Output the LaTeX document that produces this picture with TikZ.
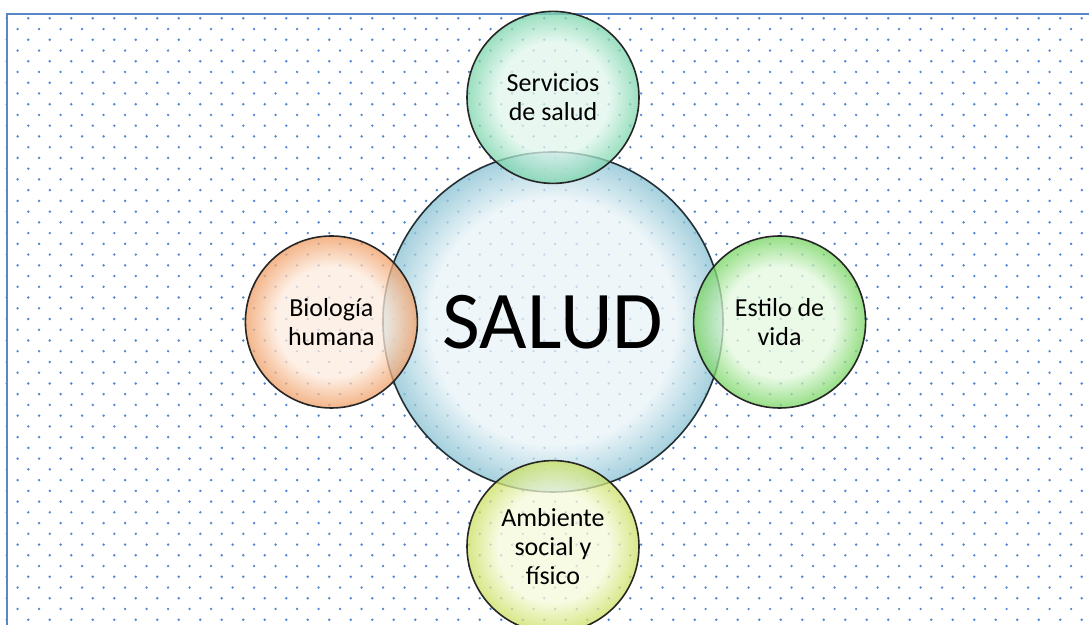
\documentclass[tikz,border=0pt]{standalone}
\usepackage{fontspec}
\setmainfont{Carlito}
\usetikzlibrary{positioning}

\definecolor{dotblue}{HTML}{4F86D2}
\definecolor{framecol}{HTML}{5A86C6}
\definecolor{saludin}{HTML}{E8F3F7}
\definecolor{saludout}{HTML}{86C0D2}
\definecolor{servin}{HTML}{E0F6EC}
\definecolor{servout}{HTML}{78D4AA}
\definecolor{bioin}{HTML}{FDEBDD}
\definecolor{bioout}{HTML}{F09C62}
\definecolor{estin}{HTML}{E4F8DF}
\definecolor{estout}{HTML}{74D45E}
\definecolor{ambin}{HTML}{F5FADB}
\definecolor{ambout}{HTML}{CADF5E}

\pgfdeclareradialshading{saludshade}{\pgfpoint{0bp}{0bp}}{color(0bp)=(saludin); color(18bp)=(saludin); color(25bp)=(saludout); color(50bp)=(saludout)}
\pgfdeclareradialshading{servshade}{\pgfpoint{0bp}{0bp}}{color(0bp)=(servin); color(16bp)=(servin); color(25bp)=(servout); color(50bp)=(servout)}
\pgfdeclareradialshading{bioshade}{\pgfpoint{0bp}{0bp}}{color(0bp)=(bioin); color(16bp)=(bioin); color(25bp)=(bioout); color(50bp)=(bioout)}
\pgfdeclareradialshading{estshade}{\pgfpoint{0bp}{0bp}}{color(0bp)=(estin); color(16bp)=(estin); color(25bp)=(estout); color(50bp)=(estout)}
\pgfdeclareradialshading{ambshade}{\pgfpoint{0bp}{0bp}}{color(0bp)=(ambin); color(16bp)=(ambin); color(25bp)=(ambout); color(50bp)=(ambout)}

\tikzset{
    bubble/.style={
           circle,
           draw=black!85, line width=0.8pt,
           minimum size=86pt,
           inner sep=0pt,
           align=center,
           font=\fontsize{13}{14.5}\selectfont,
           fill opacity=0.75, text opacity=1, draw opacity=1,
           },
    core/.style={
           bubble,
           draw=black!75!saludout,
           minimum size=170pt,
           font=\fontsize{41}{46}\selectfont,
           shading=saludshade,
           },
}

\begin{document}
\begin{tikzpicture}[x=0.5pt,y=-0.5pt]
  \useasboundingbox (0,0) rectangle (1089,625);
  \clip (0,0) rectangle (1089,625);

  % dotted paper
  \foreach \r in {0,...,57}{
    \pgfmathsetmacro\dy{18.3+10.74*\r}
    \pgfmathsetmacro\dx{mod(\r,2)==0 ? 6.8 : 17.6}
    \foreach \c in {0,...,50}
      \fill[dotblue] (\dx+21.5*\c,\dy) circle (1.35);
  }
  \draw[framecol, line width=1pt] (7,660) -- (7,14) -- (1120,14);

  \node[core]   (salud)     at (553,322) {SALUD};
  \node[bubble, shading=servshade] (servicios) [above=-16.5pt of salud] {Servicios\\de salud};
  \node[bubble, shading=bioshade]  (biologia)  [left=-18pt of salud]    {Biología\\humana};
  \node[bubble, shading=estshade]  (estilo)    [right=-15.5pt of salud] {Estilo de\\vida};
  \node[bubble, shading=ambshade]  (ambiente)  [below=-16.5pt of salud] {Ambiente\\social y\\físico};

\end{tikzpicture}
\end{document}
